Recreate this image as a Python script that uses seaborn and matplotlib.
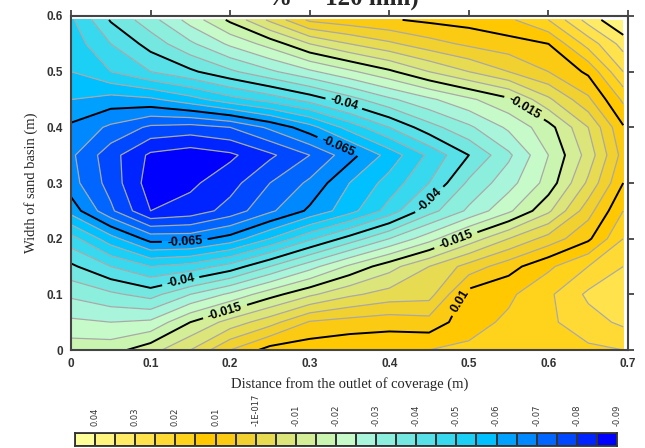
import numpy as np
import matplotlib
matplotlib.use("Agg")
import matplotlib.pyplot as plt
from matplotlib.colors import ListedColormap, BoundaryNorm
import seaborn as sns

# Grid positions (m)
x_pos = [0.0, 0.05, 0.10, 0.15, 0.20, 0.25, 0.30, 0.35, 0.40, 0.45, 0.50, 0.55, 0.60, 0.65, 0.694]
y_pos = [0.0, 0.05, 0.10, 0.15, 0.20, 0.25, 0.30, 0.35, 0.40, 0.45, 0.50, 0.55, 0.593]

# Bed change values, one row per width position (bottom to top)
row_y000 = [-0.017, -0.017, -0.012, -0.005, 0.005, 0.012, 0.013, 0.014, 0.014, 0.015, 0.016, 0.017, 0.018, 0.019, 0.020]
row_y005 = [-0.024, -0.025, -0.024, -0.015, -0.008, -0.002, 0.0055, 0.007, 0.008, 0.007, 0.013, 0.016, 0.019, 0.023, 0.026]
row_y010 = [-0.031, -0.034, -0.037, -0.030, -0.024, -0.017, -0.011, -0.006, -0.003, -0.002, 0.012, 0.014, 0.019, 0.026, 0.029]
row_y015 = [-0.039, -0.045, -0.050, -0.048, -0.043, -0.035, -0.027, -0.019, -0.012, -0.005, 0.002, 0.008, 0.014, 0.020, 0.025]
row_y020 = [-0.048, -0.058, -0.067, -0.067, -0.063, -0.055, -0.046, -0.038, -0.030, -0.022, -0.013, -0.005, 0.002, 0.009, 0.020]
row_y025 = [-0.062, -0.074, -0.085, -0.083, -0.078, -0.071, -0.064, -0.057, -0.048, -0.037, -0.029, -0.021, -0.011, 0.003, 0.015]
row_y030 = [-0.068, -0.077, -0.0875, -0.086, -0.082, -0.075, -0.069, -0.060, -0.053, -0.045, -0.034, -0.027, -0.018, -0.004, 0.010]
row_y035 = [-0.069, -0.078, -0.086, -0.088, -0.086, -0.081, -0.075, -0.067, -0.058, -0.049, -0.040, -0.031, -0.020, -0.008, 0.007]
row_y040 = [-0.066, -0.071, -0.076, -0.077, -0.075, -0.069, -0.062, -0.053, -0.045, -0.037, -0.031, -0.024, -0.017, -0.005, 0.0095]
row_y045 = [-0.060, -0.062, -0.061, -0.057, -0.052, -0.048, -0.043, -0.037, -0.031, -0.026, -0.021, -0.016, -0.006, 0.004, 0.016]
row_y050 = [-0.055, -0.050, -0.045, -0.041, -0.036, -0.031, -0.026, -0.021, -0.016, -0.010, -0.005, 0.000, 0.005, 0.011, 0.025]
row_y055 = [-0.053, -0.045, -0.038, -0.031, -0.024, -0.018, -0.010, -0.005, -0.001, 0.003, 0.006, 0.008, 0.010, 0.022, 0.032]
row_y059 = [-0.051, -0.0395, -0.032, -0.023, -0.014, -0.004, 0.006, 0.008, 0.0095, 0.011, 0.012, 0.014, 0.020, 0.032, 0.040]

# Contour levels and the labelled (bold) subset
levels = [-0.09, -0.085, -0.08, -0.075, -0.07, -0.065, -0.06, -0.055, -0.05, -0.045,
          -0.04, -0.035, -0.03, -0.025, -0.02, -0.015, -0.01, -0.005, 0.0, 0.005,
          0.01, 0.015, 0.02, 0.025, 0.03, 0.035, 0.04, 0.045]
major_levels = [-0.065, -0.04, -0.015, 0.01, 0.035]

# Legend tick labels (every other level, high to low)
legend_labels = ["0.04", "0.03", "0.02", "0.01", "-1E-017", "-0.01", "-0.02",
                 "-0.03", "-0.04", "-0.05", "-0.06", "-0.07", "-0.08", "-0.09"]

x_ticks = [0, 0.1, 0.2, 0.3, 0.4, 0.5, 0.6, 0.7]
x_tick_labels = ["0", "0.1", "0.2", "0.3", "0.4", "0.5", "0.6", "0.7"]
y_ticks = [0, 0.1, 0.2, 0.3, 0.4, 0.5, 0.6]
y_tick_labels = ["0", "0.1", "0.2", "0.3", "0.4", "0.5", "0.6"]

# Fill colours from the highest band (pale yellow) to the lowest (deep blue)
band_colors_high_to_low = [
    "#FFFF99", "#FFF47E", "#FFEB66", "#FFE24C", "#FFDA34", "#FFD21C", "#FFC800",
    "#FACB12", "#F0D130", "#E7DB52", "#DCE57A", "#D3EE97", "#C9F5B1", "#C6FBC9",
    "#A8F5DC", "#8CEEDD", "#74E8E0", "#58E0E8", "#38D8EE", "#1CCFF4", "#00C0FF",
    "#00A0FF", "#0088FF", "#0066FF", "#0048FF", "#0024FF", "#0000FF",
]

sns.set_style("white")

Z = np.array([row_y000, row_y005, row_y010, row_y015, row_y020, row_y025, row_y030,
              row_y035, row_y040, row_y045, row_y050, row_y055, row_y059])
X, Y = np.meshgrid(x_pos, y_pos)

cmap = ListedColormap(band_colors_high_to_low[::-1])
cmap.set_under("#0000E0")
cmap.set_over("#FFFFB0")
norm = BoundaryNorm(levels, cmap.N)

fig = plt.figure(figsize=(6.45, 4.48), dpi=100)
ax = fig.add_axes([71 / 645, 1 - 350 / 448, 557 / 645, 334 / 448])

ax.contourf(X, Y, Z, levels=levels, cmap=cmap, norm=norm, extend="both")
minor_levels = [lv for lv in levels if lv not in major_levels]
ax.contour(X, Y, Z, levels=minor_levels, colors="#A9A9A9", linewidths=0.9,
           linestyles="solid")
cs = ax.contour(X, Y, Z, levels=major_levels, colors="black", linewidths=1.4,
                linestyles="solid")

label_spots = [(0.344, 0.449), (0.338, 0.372), (0.143, 0.192), (0.451, 0.269),
               (0.137, 0.129), (0.573, 0.443), (0.485, 0.192), (0.193, 0.072),
               (0.482, 0.093)]
labels = ax.clabel(cs, manual=label_spots, fmt=lambda v: f"{v:g}", fontsize=9,
                   inline=True, inline_spacing=3)
for t in labels:
    t.set_fontweight("bold")
    t.set_family("Liberation Sans")

ax.set_xlim(0, 0.7)
ax.set_ylim(0, 0.6)
ax.set_xticks(x_ticks)
ax.set_xticklabels(x_tick_labels)
ax.set_yticks(y_ticks)
ax.set_yticklabels(y_tick_labels)
ax.tick_params(direction="out", length=4, width=1.2, color="#333333",
               top=True, right=True, labeltop=False, labelright=False,
               labelsize=8.5, labelcolor="#333333", pad=2)
for lab in ax.get_xticklabels() + ax.get_yticklabels():
    lab.set_fontweight("bold")
    lab.set_family("Liberation Sans")
for sp in ax.spines.values():
    sp.set_linewidth(1.5)
    sp.set_color("#444444")
    sp.set_visible(True)

ax.set_xlabel("Distance from the outlet of coverage (m)", family="Liberation Serif",
              fontsize=10.5, labelpad=5)
ax.set_ylabel("Width of sand basin (m)", family="Liberation Serif", fontsize=10.5,
              labelpad=6)

fig.text(0.532, 1 - 6 / 448, "%  = 120 mm)", ha="center", va="baseline",
         fontsize=18, fontweight="bold", family="Liberation Serif")

# Colour legend strip
lax = fig.add_axes([75 / 645, 2 / 448, 542 / 645, 13 / 448])
n_bands = len(band_colors_high_to_low)
legend_cmap = ListedColormap(band_colors_high_to_low)
lax.pcolormesh(np.arange(n_bands + 1), [0, 1], np.arange(n_bands)[None, :],
               cmap=legend_cmap, edgecolors="#333333", linewidth=1.3)
lax.set_xlim(0, n_bands)
lax.set_ylim(0, 1)
lax.set_yticks([])
lax.set_xticks(np.arange(1, n_bands + 1, 2))
lax.set_xticklabels(legend_labels)
lax.tick_params(axis="x", bottom=False, labelbottom=False, top=False, labeltop=True,
                labelrotation=90, labelsize=6, labelcolor="#333333", pad=1.5)
for sp in lax.spines.values():
    sp.set_linewidth(1.3)
    sp.set_color("#333333")

fig.savefig("out.png", dpi=100)
